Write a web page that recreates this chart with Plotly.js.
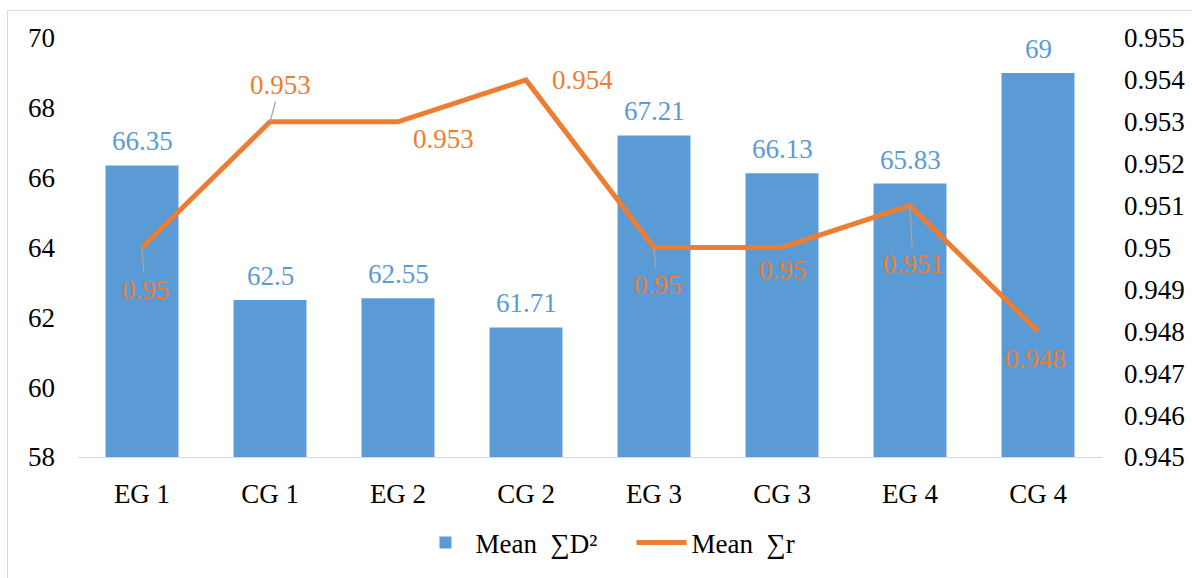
<!DOCTYPE html>
<html>
<head>
<meta charset="utf-8">
<script src="https://cdn.plot.ly/plotly-3.0.1.min.js"></script>
<style>
  html, body { margin: 0; padding: 0; background: #fff; overflow: hidden; }
  #chart { position: absolute; left: 7px; top: 10px; width: 1185px; height: 568px; border: 1px solid #d9d9d9; box-sizing: border-box; }
</style>
</head>
<body>
<div id="chart"></div>
<script>
const categories = ["EG 1", "CG 1", "EG 2", "CG 2", "EG 3", "CG 3", "EG 4", "CG 4"];
const meanD2 = [66.35, 62.5, 62.55, 61.71, 67.21, 66.13, 65.83, 69];
const meanR = [0.95, 0.953, 0.953, 0.954, 0.95, 0.95, 0.951, 0.948];
const barLabels = ["66.35", "62.5", "62.55", "61.71", "67.21", "66.13", "65.83", "69"];
const lineLabels = ["0.95", "0.953", "0.953", "0.954", "0.95", "0.95", "0.951", "0.948"];
const leftTicks = [58, 60, 62, 64, 66, 68, 70];
const rightTickVals = [0.945, 0.946, 0.947, 0.948, 0.949, 0.95, 0.951, 0.952, 0.953, 0.954, 0.955];
const rightTickText = ["0.945", "0.946", "0.947", "0.948", "0.949", "0.95", "0.951", "0.952", "0.953", "0.954", "0.955"];

const BLUE = "#5B9BD5";
const ORANGE = "#ED7D31";
const FONT = "Liberation Serif";
const FS = 27;

// label placement offsets (pixels) for line labels: [dx, dy(screen, down positive), leader]
const lineLabelPos = [
  [3, 42, true], [10, -37, true], [45, 17, false], [56, 0, false],
  [3, 37, true], [0, 22, false], [3, 58, true], [-3, 28, false]
];

const annotations = [];
categories.forEach((c, i) => {
  annotations.push({
    x: c, y: meanD2[i], xref: "x", yref: "y",
    text: barLabels[i], showarrow: false,
    yanchor: "middle", yshift: 24,
    font: { family: FONT, size: FS, color: BLUE }
  });
  const p = lineLabelPos[i];
  if (p[2]) {
    annotations.push({
      x: c, y: meanR[i], xref: "x", yref: "y2",
      text: lineLabels[i], showarrow: true,
      ax: p[0], ay: p[1], arrowhead: 0, arrowwidth: 1.3,
      arrowcolor: "#a6a6a6", standoff: 0, startstandoff: 0,
      font: { family: FONT, size: FS, color: ORANGE }
    });
  } else {
    annotations.push({
      x: c, y: meanR[i], xref: "x", yref: "y2",
      text: lineLabels[i], showarrow: false,
      xshift: p[0], yshift: -p[1],
      font: { family: FONT, size: FS, color: ORANGE }
    });
  }
});

const traces = [
  {
    type: "bar", x: categories, y: meanD2, name: "Mean\u00a0\u00a0\u2211D\u00b2",
    marker: { color: BLUE }, width: 0.57, yaxis: "y", hoverinfo: "x+y"
  },
  {
    type: "scatter", mode: "lines", x: categories, y: meanR, name: "Mean\u00a0\u00a0\u2211r",
    line: { color: ORANGE, width: 5 }, yaxis: "y2", hoverinfo: "x+y"
  }
];

const layout = {
  width: 1185, height: 568,
  margin: { l: 70, r: 91, t: 27, b: 117 },
  paper_bgcolor: "#fff", plot_bgcolor: "#fff",
  font: { family: FONT, size: FS, color: "#000" },
  showlegend: true,
  legend: {
    orientation: "h", x: 0.5405, xanchor: "center", y: -0.205, yanchor: "middle",
    font: { family: FONT, size: FS, color: "#000" }, traceorder: "normal",
    itemwidth: 50, entrywidth: 151, entrywidthmode: "pixels"
  },
  xaxis: {
    type: "category", showgrid: false, zeroline: false,
    showline: true, linecolor: "#d9d9d9", linewidth: 1,
    ticks: "", ticklabelstandoff: 13,
    tickfont: { family: FONT, size: FS, color: "#000" }
  },
  yaxis: {
    range: [58, 70], tickvals: leftTicks, showgrid: false, zeroline: false,
    showline: false, ticks: "", ticklabelstandoff: 22,
    tickfont: { family: FONT, size: FS, color: "#000" }
  },
  yaxis2: {
    overlaying: "y", side: "right", range: [0.945, 0.955],
    tickvals: rightTickVals, ticktext: rightTickText,
    showgrid: false, zeroline: false, showline: false, ticks: "",
    ticklabelstandoff: 21,
    tickfont: { family: FONT, size: FS, color: "#000" }
  },
  bargap: 0.43,
  annotations: annotations
};

Plotly.newPlot("chart", traces, layout, { displayModeBar: false, responsive: false });
</script>
</body>
</html>
